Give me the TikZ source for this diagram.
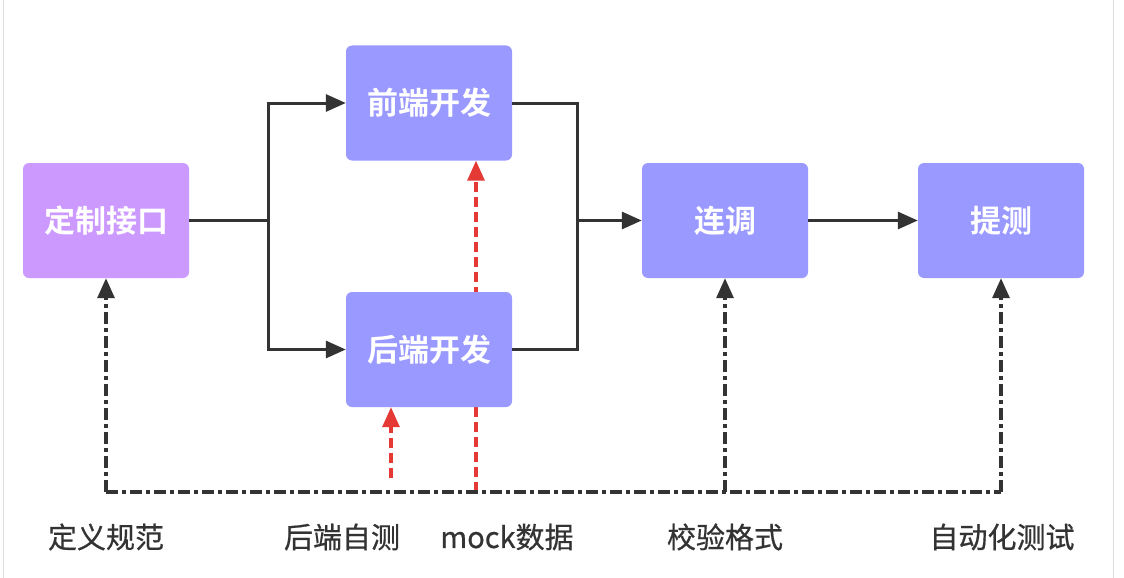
\documentclass[tikz,border=0pt]{standalone}
\usepackage{fontspec}
\setmainfont{Noto Sans CJK SC}
\newfontfamily\boldcjk{Noto Sans CJK SC Bold}
\newfontfamily\labfont[FakeBold=0.6]{Noto Sans CJK SC}
\usetikzlibrary{arrows.meta,backgrounds}
\definecolor{purplebox}{HTML}{CC99FF}
\definecolor{bluebox}{HTML}{9999FF}
\definecolor{linegray}{HTML}{333333}
\definecolor{redline}{HTML}{E53935}
\definecolor{framegray}{HTML}{DDDDDD}
\tikzset{
  box/.style={rounded corners=6pt, minimum width=166pt, minimum height=115pt, inner sep=0pt,
    text=white, font=\boldcjk\fontsize{31}{34}\selectfont},
  pbox/.style={box, fill=purplebox},
  bbox/.style={box, fill=bluebox},
  flow/.style={draw=linegray, line width=3pt},
  tip/.style={-{Triangle[length=20pt,width=17pt]}},
  dashdotline/.style={draw=linegray, line width=3.2pt, dash pattern=on 12pt off 4pt on 4pt off 4pt},
  reddash/.style={draw=redline, line width=3.2pt, dash pattern=on 10pt off 5pt},
  lab/.style={text=linegray, font=\labfont\fontsize{29}{32}\selectfont, inner sep=0pt}
}
\begin{document}
\begin{tikzpicture}[x=1pt,y=-1pt]
\useasboundingbox (0,0) rectangle (1124,578);

\node[pbox] (dz) at (106,220.5) {定制接口};
\node[bbox] (qd) at (429,103) {前端开发};
\node[bbox] (hd) at (429,349.5) {后端开发};
\node[bbox] (lt) at (725,220.5) {连调};
\node[bbox] (tc) at (1001,220.5) {提测};

\coordinate (split) at (268,220.5);
\coordinate (join) at (577,220.5);

\draw[flow] (dz.east) -- (split);
\draw[flow, tip] (split) |- (qd.west);
\draw[flow, tip] (split) |- (hd.west);
\draw[flow] (qd.east) -| (join);
\draw[flow] (hd.east) -| (join);
\draw[flow, tip] (join) -- (lt.west);
\draw[flow, tip] (lt.east) -- (tc.west);

\coordinate (b1) at (106,492);
\coordinate (b2) at (725,492);
\coordinate (b3) at (1001,492);
\draw[dashdotline] (b1) -- (b3);
\draw[dashdotline, tip] (b1) -- (dz.south);
\draw[dashdotline, tip] (b2) -- (lt.south);
\draw[dashdotline, tip] (b3) -- (tc.south);

\coordinate (r1) at (391,478);
\coordinate (r2) at (476,492);
\draw[reddash, redline, tip] (r1) -- (r1 |- hd.south);
\begin{scope}[on background layer]
\fill[white] (0,0) rectangle (1124,578);
\draw[framegray, line width=1pt] (3,0) -- (3,578);
\draw[framegray, line width=1pt] (1113,0) -- (1113,578);
\draw[reddash, redline, tip] (r2) -- (r2 |- qd.south);
\end{scope}

\node[lab] (l1) at (106,537) {定义规范};
\node[lab] (l2) at (342,537) {后端自测};
\node[lab] (l3) at (507,537) {mock数据};
\node[lab] (l4) at (725,537) {校验格式};
\node[lab] (l5) at (1002,537) {自动化测试};
\end{tikzpicture}
\end{document}
